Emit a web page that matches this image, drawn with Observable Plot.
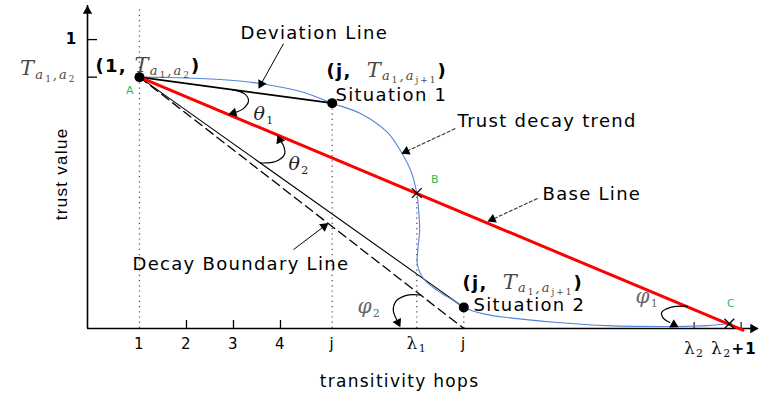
<!DOCTYPE html>
<html><head><meta charset="utf-8">
<script src="https://cdn.jsdelivr.net/npm/d3@7"></script>
<script src="https://cdn.jsdelivr.net/npm/@observablehq/plot@0.6"></script>
<style>html,body{margin:0;padding:0;background:#fff;}</style>
</head><body><div id="chart"></div>
<script>
// ---------- scale extents (hops on x, trust value on y) ----------
const X0 = -0.106, X1 = 14.17, Y1 = 1.118;

// ---------- axis ticks ----------
const xTickHops  = [1, 2, 3, 4, 5.1, 6.9, 7.9, 12.8, 13.8];
const xTickNames = ["1", "2", "3", "4", "j", "λ1", "j", "λ2", "λ2+1"];
const xMajorTicks = [2, 3, 4];
const xMinorTicks = [12.8, 13.8];
const yTickValues = [1, 0.87];

// ---------- series ----------
const trendHops  = [1, 1.66, 2.72, 3.57, 4.43, 5.1, 5.70, 6.28, 6.55, 6.77, 6.9, 6.94, 6.96, 6.92, 6.91, 7.04, 7.34, 7.68, 7.9, 8.40, 8.83, 9.89, 10.96, 12.36, 13.09, 13.6];
const trendTrust = [0.87, 0.869, 0.862, 0.848, 0.820, 0.78, 0.744, 0.678, 0.616, 0.547, 0.469, 0.408, 0.339, 0.270, 0.225, 0.173, 0.131, 0.097, 0.073, 0.048, 0.038, 0.021, 0.010, 0.007, 0.010, 0.018];
const baseHops = [1, 13.84],   baseTrust = [0.87, -0.006];
const deviationHops = [1, 5.1], deviationTrust = [0.87, 0.78];
const situation2Hops = [1, 7.9], situation2Trust = [0.87, 0.073];
const boundaryHops = [1, 7.9], boundaryTrust = [0.87, 0];
const pointHops = [1, 5.1, 7.9], pointTrust = [0.87, 0.78, 0.073];
const crossHops = [6.9, 13.55], crossTrust = [0.469, 0.017];
const guideHops = [1, 5.1, 6.9, 7.9], guideTop = [1.11, 0.78, 0.469, 0.073];

// angle arcs (last point = arrow tip)
const theta1Arc = [[2.98,0.827],[3.23,0.813],[3.32,0.789],[3.21,0.761],[3.02,0.747],[2.89,0.741]];
const theta2Arc = [[3.574,0.573],[3.894,0.578],[4.085,0.602],[4.064,0.633],[3.979,0.654],[3.936,0.670]];
const phi2Arc   = [[6.98,0.116],[6.66,0.114],[6.45,0.093],[6.40,0.062],[6.47,0.031],[6.55,0.004]];
const phi1Arc   = [[12.66,0.077],[12.30,0.073],[12.11,0.055],[12.15,0.035],[12.28,0.021],[12.47,0.004]];

// pointer arrows [from, tip]
const solidPointers  = [[[4.064,0.986],[3.532,0.830]], [[4.277,0.273],[5.02,0.365]]];
const dashedPointers = [[[7.72,0.692],[6.57,0.605]], [[9.468,0.450],[8.404,0.370]]];

// text annotations
const plainLabels = [
  {text: "Deviation Line", x: 3.149, y: 1.003},
  {text: "Situation 1", x: 5.17, y: 0.789},
  {text: "Trust decay trend", x: 7.766, y: 0.699},
  {text: "Base Line", x: 9.574, y: 0.446},
  {text: "Decay Boundary Line", x: 0.851, y: 0.201},
  {text: "Situation 2", x: 8.106, y: 0.059}
];
const pointLetters = [
  {text: "A", x: 0.809, y: 0.813},
  {text: "B", x: 7.298, y: 0.502},
  {text: "C", x: 13.596, y: 0.073}
];

// rich math text: [text, style, baseline offset]
const RICH = {
  pointA: [["(1, ","b",0],["T","T",0],["a","s",3],["1","ss",6],[",","s",3],["a","s",3],["2","ss",6],[")","b",0]],
  pointJ: [["(j,\u00a0\u00a0","b",0],["T","T",0],["a","s",3],["1","ss",6],[",","s",3],["a","s",3],["j+1","ss",6],[")","b",0]],
  tA:     [["T","T",0],["a","s",4],["1","ss",7],[",","s",4],["a","s",4],["2","ss",7]],
  theta1: [["θ","th",0],["1","ths",4]],
  theta2: [["θ","th",0],["2","ths",4]],
  phi1:   [["φ","ph",0],["1","phs",4]],
  phi2:   [["φ","ph",0],["2","phs",4]],
  lam1:   [["λ","l",0],["1","ls",3]],
  lam2:   [["λ","l",0],["2","ls",3]],
  lam2p1: [["λ","l",0],["2","ls",3],["+1","b15",0]]
};
const plain = k => RICH[k].map(p => p[0]).join("");
const mathLabels = [
  {key: "pointA", x: 0.064, y: 0.889},
  {key: "pointJ", x: 4.979, y: 0.869},
  {key: "pointJ", x: 7.872, y: 0.138},
  {key: "theta1", x: 3.426, y: 0.723},
  {key: "theta2", x: 4.17, y: 0.55},
  {key: "phi2", x: 5.638, y: 0.052},
  {key: "phi1", x: 11.553, y: 0.087}
];

// ---------- styles ----------
const STY = {
  b:   {ff: "DejaVu Sans", fw: "bold", fs: 18, fill: "#000"},
  b15: {ff: "DejaVu Sans", fw: "bold", fs: 15, fill: "#000"},
  T:   {ff: "DejaVu Serif", st: "italic", fs: 21, fill: "#4a4a4a"},
  s:   {ff: "DejaVu Serif", st: "italic", fs: 13, fill: "#4a4a4a", ls: 2},
  ss:  {ff: "DejaVu Serif", fs: 9, fill: "#4a4a4a", ls: 2},
  th:  {ff: "DejaVu Serif", st: "italic", fs: 19, fill: "#222"},
  ths: {ff: "DejaVu Serif", fs: 11, fill: "#222"},
  ph:  {ff: "DejaVu Serif", st: "italic", fs: 20, fill: "#666"},
  phs: {ff: "DejaVu Serif", fs: 11, fill: "#666"},
  l:   {ff: "DejaVu Serif", fs: 17, fill: "#111"},
  ls:  {ff: "DejaVu Serif", fs: 11, fill: "#111"}
};
function tspans(parts) {
  let cur = 0;
  return parts.map(([t, k, off]) => {
    const s = STY[k], dy = off - cur; cur = off;
    return `<tspan dy="${dy}" font-family="${s.ff}" font-size="${s.fs}"` +
      (s.fw ? ` font-weight="${s.fw}"` : "") + (s.st ? ` font-style="${s.st}"` : "") +
      ` fill="${s.fill}"` + (s.ls != null ? ` letter-spacing="${s.ls}"` : "") + `>${t}</tspan>`;
  }).join("");
}

// pixel mirror of the plot scales, used to orient arrowheads
const W = 759, H = 394, mL = 87, mR = 1, mT = 5, mB = 66;
const px = d3.scaleLinear([X0, X1], [mL, W - mR]);
const py = d3.scaleLinear([0, Y1], [H - mB, mT]);
const HEAD_R = 3.5;
function head(from, to) {
  const fx = px(from[0]), fy = py(from[1]), tx = px(to[0]), ty = py(to[1]);
  const L = Math.hypot(tx - fx, ty - fy), ux = (tx - fx) / L, uy = (ty - fy) / L;
  const k = Math.sqrt(Math.PI * HEAD_R * HEAD_R / (Math.sqrt(3) * 3));
  return {x: px.invert(tx - ux * 2 * k), y: py.invert(ty - uy * 2 * k), rotate: Math.atan2(ux, -uy) * 180 / Math.PI};
}

const zip = (a, b) => a.map((v, i) => ({x: v, y: b[i]}));
const arcs = [theta1Arc, theta2Arc, phi2Arc, phi1Arc];
const heads = [
  ...arcs.map(a => head(a[a.length - 2], a[a.length - 1])),
  ...solidPointers.map(([f, t]) => head(f, t)),
  ...dashedPointers.map(([f, t]) => head(f, t)),
  head([X0, 1.0], [X0, Y1]),
  head([13, 0], [X1, 0])
];
const pointerLinks = (list) => list.map(([f, t]) => { const h = head(f, t); return {x1: f[0], y1: f[1], x2: h.x, y2: h.y}; });
const tickIdx = xTickHops.map((h, i) => i);

const svg = Plot.plot({
  width: W, height: H,
  marginLeft: mL, marginRight: mR, marginTop: mT, marginBottom: mB,
  x: {domain: [X0, X1], axis: null},
  y: {domain: [0, Y1], axis: null},
  marks: [
    // dotted guides
    Plot.ruleX(zip(guideHops, guideTop), {x: "x", y1: 0, y2: "y", stroke: "#555", strokeWidth: 1.3, strokeDasharray: "1.2,4"}),
    // axes
    Plot.ruleY([0], {x1: X0, x2: X1, stroke: "#000", strokeWidth: 1.6}),
    Plot.ruleX([X0], {y1: 0, y2: Y1, stroke: "#000", strokeWidth: 1.6}),
    Plot.ruleX(xMajorTicks, {x: d => d, y1: 0, y2: 0, insetTop: -8, stroke: "#000", strokeWidth: 1.3}),
    Plot.ruleX(xMinorTicks, {x: d => d, y1: 0, y2: 0, insetTop: -6, stroke: "#000", strokeWidth: 1.1}),
    Plot.ruleY(yTickValues, {y: d => d, x1: X0, x2: X0, insetRight: -10, stroke: "#000", strokeWidth: 1.3}),
    // lines
    Plot.line(zip(boundaryHops, boundaryTrust), {x: "x", y: "y", stroke: "#000", strokeWidth: 1.3, strokeDasharray: "9,5"}),
    Plot.line(zip(situation2Hops, situation2Trust), {x: "x", y: "y", stroke: "#000", strokeWidth: 1.1}),
    Plot.line(zip(trendHops, trendTrust), {x: "x", y: "y", stroke: "#5585d5", strokeWidth: 1.1, curve: "catmull-rom"}),
    Plot.line(zip(deviationHops, deviationTrust), {x: "x", y: "y", stroke: "#000", strokeWidth: 1.8}),
    Plot.line(zip(baseHops, baseTrust), {x: "x", y: "y", stroke: "#ff0000", strokeWidth: 3}),
    // angle arcs
    ...arcs.map(a => Plot.line(a.slice(0, -1), {x: d => d[0], y: d => d[1], stroke: "#000", strokeWidth: 1.2, curve: "catmull-rom"})),
    // pointers
    Plot.link(pointerLinks(solidPointers), {x1: "x1", y1: "y1", x2: "x2", y2: "y2", stroke: "#000", strokeWidth: 1}),
    Plot.link(pointerLinks(dashedPointers), {x1: "x1", y1: "y1", x2: "x2", y2: "y2", stroke: "#333", strokeWidth: 1.1, strokeDasharray: "4,1.5"}),
    Plot.dot(heads, {x: "x", y: "y", rotate: "rotate", symbol: "triangle", r: HEAD_R, fill: "#000", stroke: "none"}),
    // points and crossings
    Plot.dot(zip(pointHops, pointTrust), {x: "x", y: "y", r: 5, fill: "#000", stroke: "none"}),
    Plot.dot(zip(crossHops, crossTrust), {x: "x", y: "y", symbol: "times", r: 4.5, stroke: "#000", strokeWidth: 1.3}),
    // tick labels
    Plot.text(tickIdx.filter(i => !xTickNames[i].startsWith("λ2")), {x: i => xTickHops[i], y: 0, text: i => xTickNames[i], dy: 20, lineAnchor: "bottom", fontFamily: "DejaVu Sans", fontSize: 15, fill: "#000"}),
    Plot.text(tickIdx.filter(i => xTickNames[i] === "λ2"), {x: i => xTickHops[i], y: 0, text: i => xTickNames[i], dy: 25, lineAnchor: "bottom", fontFamily: "DejaVu Sans", fontSize: 15, fill: "#000"}),
    Plot.text(tickIdx.filter(i => xTickNames[i] === "λ2+1"), {x: i => xTickHops[i], y: 0, text: i => xTickNames[i], dy: 25, dx: -7, lineAnchor: "bottom", fontFamily: "DejaVu Sans", fontSize: 15, fill: "#000"}),
    Plot.text([yTickValues[0]], {x: X0, y: d => d, text: d => String(d), dx: -10, textAnchor: "end", fontFamily: "DejaVu Sans", fontWeight: "bold", fontSize: 15, fill: "#000"}),
    Plot.text([yTickValues[1]], {x: X0, y: d => d, text: () => plain("tA"), dx: -11, dy: -2, textAnchor: "end", lineAnchor: "bottom", fontSize: 18}),
    // axis titles
    Plot.text(["transitivity hops"], {x: 6.532, y: 0, text: d => d, dy: 58, lineAnchor: "bottom", fontFamily: "DejaVu Sans", fontSize: 17, fill: "#000"}),
    Plot.text(["trust value"], {x: X0, y: 0.535, text: d => d, dx: -26, rotate: -90, fontFamily: "Liberation Sans", fontSize: 17, fill: "#000"}),
    // annotations
    Plot.text(plainLabels, {x: "x", y: "y", text: "text", textAnchor: "start", lineAnchor: "bottom", fontFamily: "DejaVu Sans", fontSize: 18, fill: "#000"}),
    Plot.text(mathLabels, {x: "x", y: "y", text: d => plain(d.key), textAnchor: "start", lineAnchor: "bottom", fontSize: 18}),
    Plot.text(pointLetters, {x: "x", y: "y", text: "text", lineAnchor: "bottom", fontFamily: "DejaVu Sans", fontSize: 11, fill: "#35b858"})
  ]
});

svg.style.letterSpacing = "1.3px";
const byPlain = new Map(Object.keys(RICH).map(k => [plain(k), tspans(RICH[k])]));
svg.querySelectorAll("text").forEach(t => {
  const html = byPlain.get(t.textContent);
  if (html && t.childElementCount === 0) t.innerHTML = html;
});
document.getElementById("chart").appendChild(svg);
</script>
</body></html>
